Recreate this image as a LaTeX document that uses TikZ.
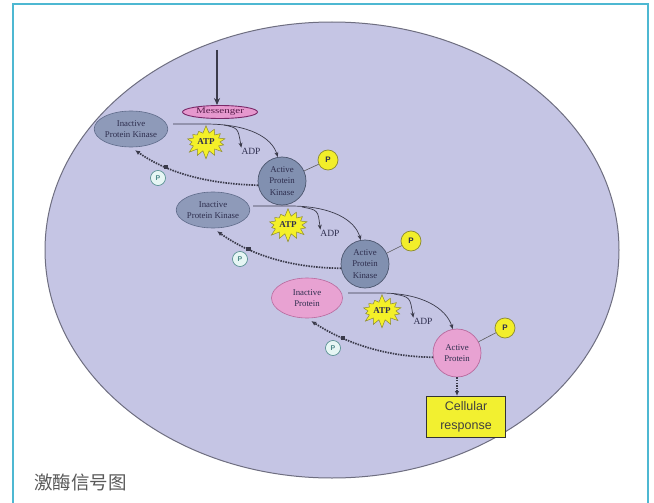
\documentclass[tikz,border=0pt]{standalone}
\usepackage{fontspec}
\setmainfont{Liberation Serif}
\newfontfamily\cjk{Noto Sans CJK SC}
\newfontfamily\lsans{Liberation Sans}
\usetikzlibrary{shapes.geometric,shapes.symbols,arrows.meta}
\definecolor{framec}{HTML}{4DB8D2}
\definecolor{cellfill}{HTML}{C5C5E4}
\definecolor{celldraw}{HTML}{6E6E80}
\definecolor{kinfill}{HTML}{8E9AB9}
\definecolor{kindraw}{HTML}{5F6B8A}
\definecolor{akinfill}{HTML}{8190B0}
\definecolor{pinkfill}{HTML}{E8A2D2}
\definecolor{pinkdraw}{HTML}{B86A9E}
\definecolor{msgfill}{HTML}{E698CE}
\definecolor{msgdraw}{HTML}{7A2868}
\definecolor{atpfill}{HTML}{F4F028}
\definecolor{atpdraw}{HTML}{8C8A30}
\definecolor{pfill}{HTML}{F2EE2A}
\definecolor{sfill}{HTML}{E6F6F4}
\definecolor{sdraw}{HTML}{4E8A8A}
\definecolor{labc}{HTML}{2E2E4E}
\definecolor{boxfill}{HTML}{F2F030}
\definecolor{linec}{HTML}{3A3A4A}
\tikzset{
  lab/.style={font=\fontsize{8.8}{11.5}\selectfont, text=labc, align=center},
  inactive/.style={ellipse, draw=kindraw, fill=kinfill, line width=0.6pt, inner sep=0pt, minimum width=68pt, minimum height=36pt, lab},
  active/.style={circle, draw=kindraw!80!black, fill=akinfill, line width=0.7pt, inner sep=0pt, minimum size=48pt, lab},
  inprot/.style={ellipse, draw=pinkdraw, fill=pinkfill, line width=0.6pt, inner sep=0pt, minimum width=71pt, minimum height=40pt, lab},
  actprot/.style={circle, draw=pinkdraw, fill=pinkfill, line width=0.7pt, inner sep=0pt, minimum size=48pt, lab},
  msgbox/.style={ellipse, draw=msgdraw, fill=msgfill, line width=0.9pt, inner sep=0pt, minimum width=75pt, minimum height=13pt, font=\fontsize{8.5}{9}\selectfont, text=msgdraw!70!black},
  atpstar/.style={starburst, starburst points=14, starburst point height=8pt, random starburst=7, draw=atpdraw, fill=atpfill, line width=0.5pt, inner sep=0pt, minimum width=44pt, minimum height=34pt, font=\bfseries\fontsize{9}{10}\selectfont, text=labc},
  adplab/.style={font=\fontsize{9.5}{10}\selectfont, text=labc, inner sep=0pt},
  pball/.style={circle, draw=atpdraw, fill=pfill, line width=0.7pt, inner sep=0pt, minimum size=20pt, font=\lsans\bfseries\fontsize{8}{9}\selectfont, text=labc},
  sball/.style={circle, draw=sdraw, fill=sfill, line width=0.6pt, inner sep=0pt, minimum size=15pt, font=\lsans\bfseries\fontsize{7}{8}\selectfont, text=sdraw},
  flow/.style={draw=linec, line width=0.7pt, -{Stealth[length=5pt,width=4pt]}},
  back/.style={draw=linec, line width=1.7pt, dash pattern=on 1.5pt off 1.1pt, -{Latex[length=5pt,width=4.5pt]}},
  sq/.style={rectangle, fill=linec, inner sep=0pt, minimum size=4.5pt},
  plink/.style={draw=gray!70!black, line width=0.6pt},
  resp/.style={rectangle, draw=black!80, fill=boxfill, line width=1pt, inner sep=0pt, minimum width=79pt, minimum height=41pt, align=center, font=\lsans\fontsize{12.5}{19}\selectfont, text=black!75},
}
\begin{document}
\begin{tikzpicture}[x=1pt,y=-1pt]
\useasboundingbox (0,0) rectangle (654,503);
\fill[white] (0,0) rectangle (654,503);
\draw[framec, line width=2.2pt] (13,503) -- (13,4) -- (648,4) -- (648,503);
\node[ellipse, draw=celldraw, fill=cellfill, line width=1pt, inner sep=0pt, minimum width=574pt, minimum height=456pt] (cellbody) at (332,250) {};
\node[anchor=west, font=\cjk\fontsize{18.5}{20}\selectfont, text=black!65, inner sep=0pt] (title) at (34,482) {激酶信号图};

% tier 1
\node[msgbox] (msg) at (220,112) {\scalebox{1.3}[1]{Messenger}};
\coordinate (m0) at (217,50);
\draw[linec, line width=1.3pt, -{Stealth[length=7pt,width=6pt]}] (m0) -- (m0 |- msg.north);
\node[inactive] (ipk1) at (131,129) {Inactive\\Protein Kinase};
\node[atpstar] (atp1) at (206,142) {ATP};
\node[adplab] (adp1) at (251,151) {ADP};
\node[active] (apk1) at (282,181) {Active\\Protein\\Kinase};
\node[pball] (p1) at (328,160) {P};
\draw[plink] (apk1) -- (p1);
\coordinate (s1) at (173,124);
\coordinate (b1) at (224,125);
\draw[flow] (s1) -- (205,124) .. controls (250,124) and (272,138) .. (apk1.100);
\draw[flow] (b1) .. controls (238,128) .. (adp1.north west);
\draw[back] (apk1.190) .. controls (215,184) and (172,176) .. (ipk1.south) [shorten >=5pt] node[pos=0.72, sq] (q1) {};
\node[sball] (sp1) at (158,178) {P};

% tier 2
\node[inactive] (ipk2) at (213,210) {Inactive\\Protein Kinase};
\node[atpstar] (atp2) at (288,225) {ATP};
\node[adplab] (adp2) at (330,233) {ADP};
\node[active] (apk2) at (365,264) {Active\\Protein\\Kinase};
\node[pball] (p2) at (411,241) {P};
\draw[plink] (apk2) -- (p2);
\coordinate (s2) at (253,206);
\coordinate (b2) at (302,207);
\draw[flow] (s2) -- (290,206) .. controls (332,206) and (355,220) .. (apk2.100);
\draw[flow] (b2) .. controls (318,210) .. (adp2.north west);
\draw[back] (apk2.190) .. controls (298,268) and (255,258) .. (ipk2.south) [shorten >=5pt] node[pos=0.72, sq] (q2) {};
\node[sball] (sp2) at (240,259) {P};

% tier 3
\node[inprot] (ip3) at (307,298) {Inactive\\Protein};
\node[atpstar] (atp3) at (382,311) {ATP};
\node[adplab] (adp3) at (423,321) {ADP};
\node[actprot] (ap3) at (457,353) {Active\\Protein};
\node[pball] (p3) at (505,328) {P};
\draw[plink] (ap3) -- (p3);
\coordinate (s3) at (348,293);
\coordinate (b3) at (394,294);
\draw[flow] (s3) -- (380,293) .. controls (422,293) and (446,308) .. (ap3.100);
\draw[flow] (b3) .. controls (410,297) .. (adp3.north west);
\draw[back] (ap3.190) .. controls (392,357) and (350,346) .. (ip3.south) [shorten >=5pt] node[pos=0.72, sq] (q3) {};
\node[sball] (sp3) at (333,348) {P};

\node[resp] (resp) at (466,417) {Cellular\\response};
\draw[back] (ap3.south) -- (ap3.south |- resp.north);
\end{tikzpicture}
\end{document}
